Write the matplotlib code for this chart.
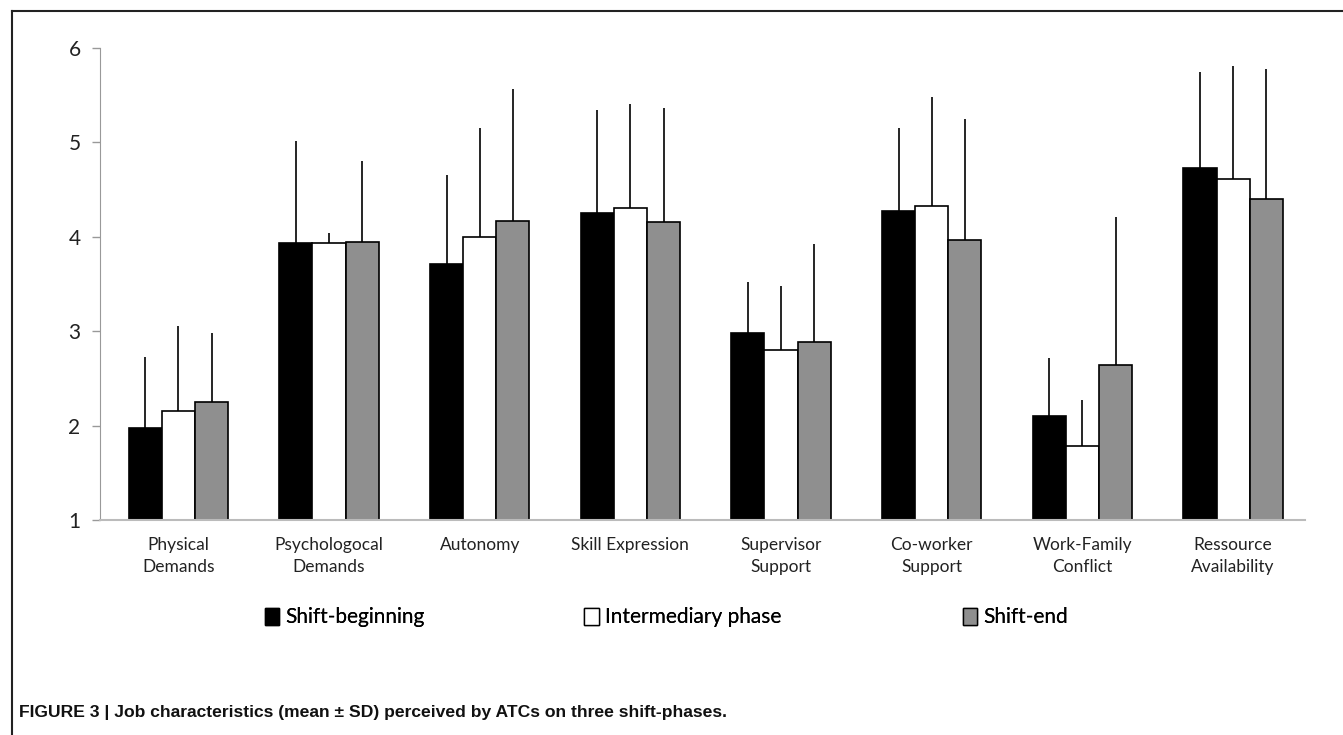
import matplotlib
matplotlib.use("Agg")
import numpy as np
import matplotlib.pyplot as plt
from matplotlib.patches import Patch
from matplotlib.lines import Line2D

categories = ['Physical\nDemands', 'Psychologocal\nDemands', 'Autonomy', 'Skill Expression',
              'Supervisor\nSupport', 'Co-worker\nSupport', 'Work-Family\nConflict', 'Ressource\nAvailability']
series = ['Shift-beginning', 'Intermediary phase', 'Shift-end']

shift_begin = [1.97, 3.93, 3.71, 4.25, 2.98, 4.27, 2.10, 4.73]
intermediary = [2.16, 3.93, 4.00, 4.31, 2.80, 4.33, 1.78, 4.61]
shift_end = [2.25, 3.95, 4.17, 4.16, 2.89, 3.97, 2.64, 4.40]

sd_begin = [0.76, 1.08, 0.94, 1.09, 0.54, 0.88, 0.62, 1.02]
sd_inter = [0.89, 0.11, 1.15, 1.10, 0.68, 1.15, 0.49, 1.20]
sd_end = [0.73, 0.85, 1.40, 1.20, 1.03, 1.28, 1.57, 1.38]

means = [shift_begin, intermediary, shift_end]
sds = [sd_begin, sd_inter, sd_end]
colors = ['black', 'white', '#8f8f8f']

plt.rcParams['font.family'] = ['Lato', 'DejaVu Sans']

fig = plt.figure(figsize=(13.43, 7.35), dpi=100)
ax = fig.add_axes([0.0745, 0.2925, 0.8975, 0.6422])

x = np.arange(len(categories))
w = 0.22
for i in range(3):
    pos = x + (i - 1) * w
    ax.bar(pos, [m - 1 for m in means[i]], w, bottom=1, color=colors[i],
           edgecolor='black', linewidth=1.2, label=series[i], zorder=2)
    ax.errorbar(pos, means[i], yerr=[np.zeros(len(x)), sds[i]], fmt='none',
                ecolor='black', elinewidth=1.2, capsize=0, zorder=3)

ax.set_xlim(-0.52, 7.48)
ax.set_ylim(1, 6)
ax.set_yticks([1, 2, 3, 4, 5, 6])
ax.set_xticks(x)
ax.set_xticklabels(categories, fontsize=12.5, color='#222222', linespacing=1.5)
ax.tick_params(axis='x', length=0, pad=12)
ax.tick_params(axis='y', labelsize=15, colors='#999999', labelcolor='#222222',
               length=6, width=1, pad=8)
for s in ['top', 'right']:
    ax.spines[s].set_visible(False)
ax.spines['left'].set_color('#999999')
ax.spines['bottom'].set_color('#bbbbbb')
ax.spines['bottom'].set_linewidth(1.5)

# legend entries placed individually
leg_x = [0.183, 0.421, 0.703]
for i in range(3):
    h = Patch(facecolor=colors[i], edgecolor='black', linewidth=1)
    lg = fig.legend([h], [series[i]], loc='center left', bbox_to_anchor=(leg_x[i], 0.16),
                    frameon=False, fontsize=15, handlelength=0.7, handleheight=0.9,
                    handletextpad=0.3)
    fig.add_artist(lg)

# frame lines around the figure
fig.add_artist(Line2D([0.009, 1.0], [0.985, 0.985], color='#222222', lw=1.5))
fig.add_artist(Line2D([0.009, 0.009], [0.0, 0.985], color='#222222', lw=1.5))

fig.text(0.014, 0.031, 'FIGURE 3 | Job characteristics (mean \u00b1 SD) perceived by ATCs on three shift-phases.',
         fontsize=12.6, fontweight='bold', family=['Liberation Sans', 'DejaVu Sans'],
         color='#111111', va='center')

fig.savefig('out.png', dpi=100)
